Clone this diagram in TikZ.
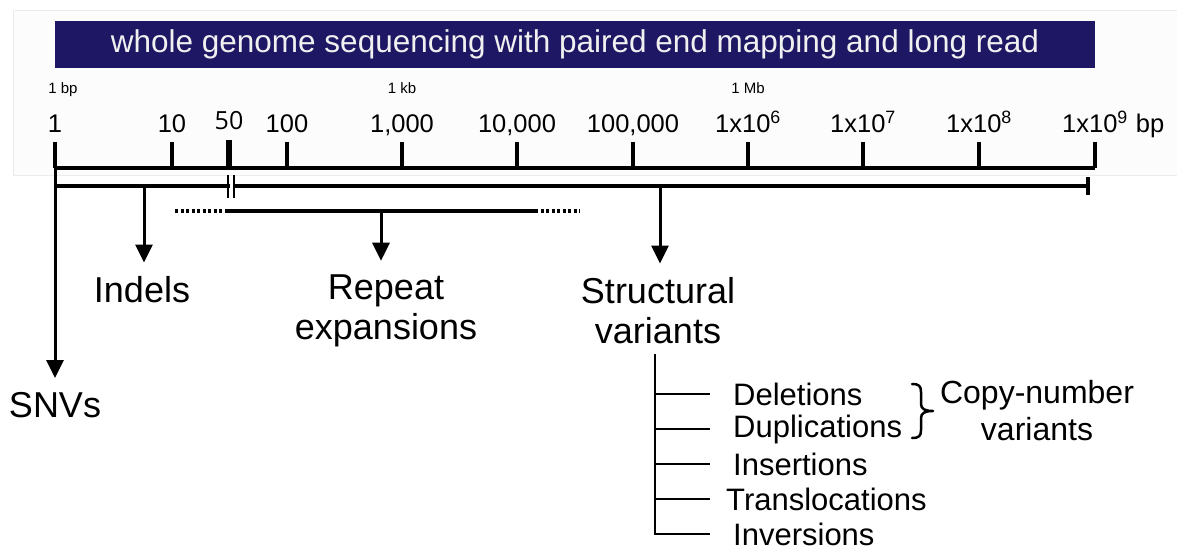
\documentclass[tikz,border=0pt]{standalone}
\usepackage{fontspec}
\setmainfont{Liberation Sans}
\newfontfamily\fiftyfont{Open Sans}
\usetikzlibrary{arrows.meta}
\definecolor{bannerblue}{RGB}{30,23,99}
\definecolor{panelfill}{RGB}{252,252,252}
\definecolor{paneledge}{RGB}{236,236,236}

\begin{document}
\begin{tikzpicture}[x=1pt,y=-1pt,
  axisline/.style={line width=4.4pt},
  tickline/.style={line width=3.8pt},
  rangeline/.style={line width=3.2pt},
  arr/.style={line width=3pt,-{Triangle[length=18pt,width=17pt]}},
  big/.style={font=\fontsize{36}{40}\selectfont, inner sep=0pt, align=center},
  num/.style={font=\fontsize{25.5}{28}\selectfont, inner sep=0pt, anchor=base},
  unit/.style={font=\fontsize{15}{16}\selectfont, inner sep=0pt, anchor=base},
  item/.style={font=\fontsize{31}{34}\selectfont, inner sep=0pt, anchor=west},
  branch/.style={line width=2.2pt}]

\useasboundingbox (0,0) rectangle (1177,551);
\fill[white] (0,0) rectangle (1177,551);

% light panel behind the scale
\draw[fill=panelfill, draw=paneledge, line width=0.8pt] (13,10) rectangle (1185,175);

% title banner
\node[fill=bannerblue, minimum width=1040pt, minimum height=46pt, inner sep=0pt,
      text=white!94!black, font=\fontsize{31.5}{34}\selectfont] (banner) at (575,44.5)
      {whole genome sequencing with paired end mapping and long read};

% unit markers
\node[unit] (ubp) at (63,93) {1 bp};
\node[unit] (ukb) at (402,93) {1 kb};
\node[unit] (umb) at (748,93) {1 Mb};

% scale axis with ticks and labels
\coordinate (ax0) at (55,168);
\coordinate (ax1) at (1095,168);
\draw[axisline] (ax0) -- (ax1);
\foreach \x/\lab/\nm in {55/1/t1, 172/10/t10, 287/100/t100, 402/{1,000}/t1k,
    517/{10,000}/t10k, 633/{100,000}/t100k, 748/{1x10\textsuperscript{6}}/t6,
    863/{1x10\textsuperscript{7}}/t7, 979/{1x10\textsuperscript{8}}/t8,
    1095/{1x10\textsuperscript{9}}/t9} {
  \coordinate (\nm) at (\x,142);
  \draw[tickline] (\nm) -- (\nm |- ax0);
  \node[num] (l\nm) at (\x,132.5) {\lab};
}
\coordinate (t1) at (55,142);
\coordinate (t50) at (229,140);
\draw[line width=5.5pt] (t50) -- (t50 |- ax0);
\node[num, font=\fiftyfont\fontsize{25}{28}\selectfont] (l50) at (229,129) {50};
\node[num] (lbp) at (1150,132.5) {bp};

% size ranges of the variant classes
\coordinate (r0) at (55,186);
\coordinate (r1) at (1088,186);
\draw[rangeline] (r0) -- (r1);
\draw[rangeline] ([yshift=9pt]r1) -- ([yshift=-9pt]r1);
\coordinate (brk) at (231,186);
\fill[white] ([xshift=-1.5pt,yshift=4pt]brk) rectangle ([xshift=1.5pt,yshift=-4pt]brk);
\draw[line width=2.2pt] ([xshift=-2.8pt,yshift=11pt]brk) -- ([xshift=-2.8pt,yshift=-12pt]brk);
\draw[line width=2.2pt] ([xshift=2.8pt,yshift=11pt]brk) -- ([xshift=2.8pt,yshift=-12pt]brk);

\coordinate (rep0) at (225,211);
\coordinate (rep1) at (535,211);
\draw[rangeline] (rep0) -- (rep1);
\draw[rangeline, dash pattern=on 3pt off 2.5pt] (175,211) -- (rep0);
\draw[rangeline, dash pattern=on 3pt off 2.5pt] (rep1) -- (580,211);

% variant classes
\node[big] (snv) at (55,405) {SNVs};
\node[big] (indels) at (142,290) {Indels};
\node[big] (repeat) at (386,311) {Repeat\\expansions};
\node[big] (sv) at (658,311) {Structural\\variants};

\coordinate (iSrc) at (144,186);
\coordinate (rSrc) at (381,211);
\coordinate (sSrc) at (660,186);
\draw[arr, shorten >=14pt] (iSrc) -- (iSrc |- indels.north);
\draw[arr, shorten >=14pt] (rSrc) -- (rSrc |- repeat.north);
\draw[arr, shorten >=14pt] (sSrc) -- (sSrc |- sv.north);
\draw[arr, shorten >=14pt] (t1) -- (t1 |- snv.north);

% kinds of structural variants
\node[item] (del) at (733,394) {Deletions};
\node[item] (dup) at (733,429) {Duplications};
\node[item] (ins) at (733,464) {Insertions};
\node[item] (tra) at (726,499) {Translocations};
\node[item] (inv) at (733,534) {Inversions};

\coordinate (trunk) at (655,354);
\draw[branch] (trunk) -- (trunk |- inv.west) -- ++(55,0);
\foreach \n in {del,dup,ins,tra} {
  \draw[branch] (trunk |- \n.west) -- ++(55,0);
}

% brace grouping the copy-number changes
\coordinate (brTop) at (912,384);
\coordinate (brTip) at (933,411);
\coordinate (brBot) at (912,438);
\draw[line width=2.5pt, line cap=round, line join=round]
  (brTop) .. controls (919,384) and (921,386) .. (921,392) -- (921,404)
  .. controls (921,409) and (925,411) .. (brTip)
  .. controls (925,411) and (921,413) .. (921,418) -- (921,430)
  .. controls (921,436) and (919,438) .. (brBot);
\node[big, font=\fontsize{32}{37}\selectfont] (cnv) at (1037,411) {Copy-number\\variants};

\end{tikzpicture}
\end{document}
